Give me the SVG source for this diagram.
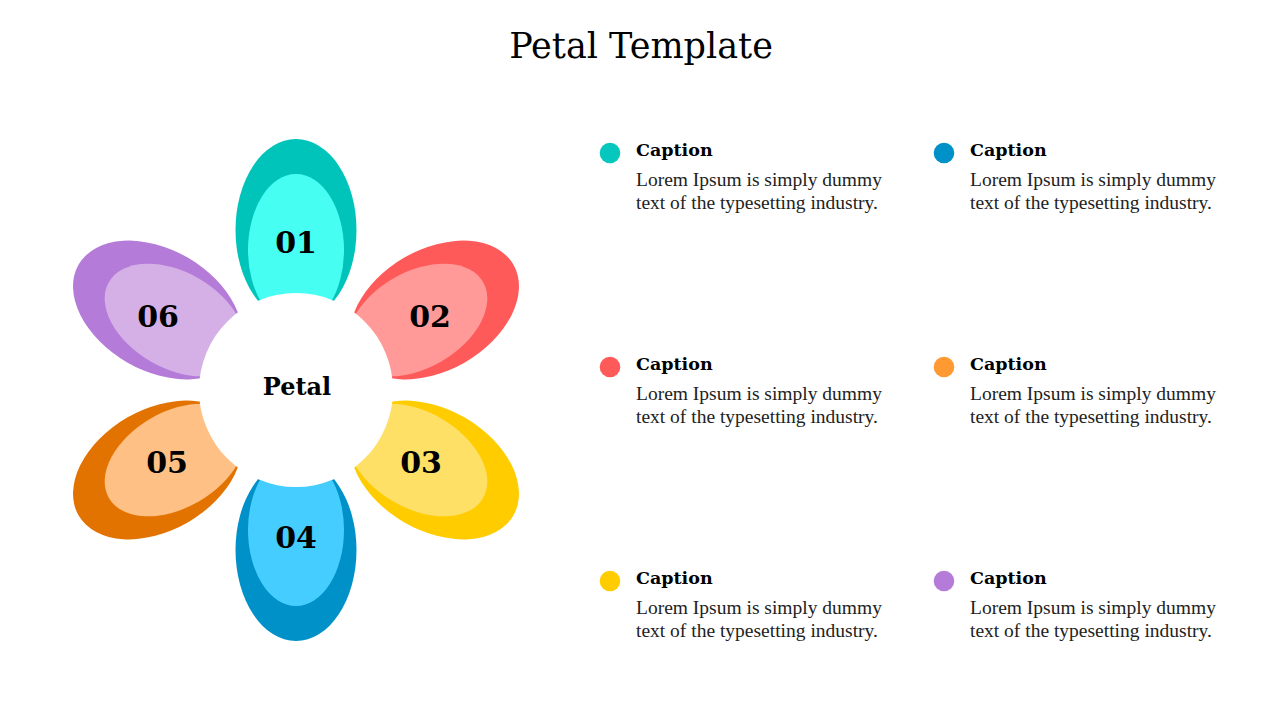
<svg xmlns="http://www.w3.org/2000/svg" width="1280" height="720" viewBox="0 0 1280 720">
  <style>
    .title { font-family: "DejaVu Serif", "Liberation Serif", serif; font-size: 35px; fill: #000; }
    .num { font-family: "DejaVu Serif", "Liberation Serif", serif; font-size: 30px; font-weight: bold; fill: #000; }
    .center { font-family: "DejaVu Serif", "Liberation Serif", serif; font-size: 24px; font-weight: bold; fill: #000; }
    .cap { font-family: "DejaVu Serif", "Liberation Serif", serif; font-size: 17.5px; font-weight: bold; fill: #000; }
    .body { font-family: "Liberation Serif", "DejaVu Serif", serif; font-size: 19.5px; fill: #222; }
  </style>
  <defs>
    <g id="petalOuter"><ellipse cx="296" cy="230" rx="60.5" ry="91"/></g>
    <g id="petalInner"><ellipse cx="296" cy="250" rx="48" ry="76"/></g>
  </defs>
  <rect width="1280" height="720" fill="#ffffff"/>
  <text class="title" x="641" y="58" text-anchor="middle">Petal Template</text>

  <g id="petal-01">
    <use href="#petalOuter" fill="#00C4BA"/>
    <use href="#petalInner" fill="#46FFF2"/>
  </g>
  <g id="petal-02" transform="rotate(60 296 390)">
    <use href="#petalOuter" fill="#FF5A5A"/>
    <use href="#petalInner" fill="#FF9A98"/>
  </g>
  <g id="petal-03" transform="rotate(120 296 390)">
    <use href="#petalOuter" fill="#FFCC00"/>
    <use href="#petalInner" fill="#FFE066"/>
  </g>
  <g id="petal-04" transform="rotate(180 296 390)">
    <use href="#petalOuter" fill="#0091C8"/>
    <use href="#petalInner" fill="#45CDFF"/>
  </g>
  <g id="petal-05" transform="rotate(240 296 390)">
    <use href="#petalOuter" fill="#E37300"/>
    <use href="#petalInner" fill="#FFC085"/>
  </g>
  <g id="petal-06" transform="rotate(300 296 390)">
    <use href="#petalOuter" fill="#B57BD8"/>
    <use href="#petalInner" fill="#D5B0E6"/>
  </g>

  <g id="center">
    <circle cx="296" cy="390" r="97" fill="#ffffff"/>
    <text class="center" x="297" y="395" text-anchor="middle">Petal</text>
  </g>

  <g id="numbers">
    <text class="num" x="296" y="253" text-anchor="middle">01</text>
    <text class="num" x="430" y="327" text-anchor="middle">02</text>
    <text class="num" x="421" y="473" text-anchor="middle">03</text>
    <text class="num" x="296" y="548" text-anchor="middle">04</text>
    <text class="num" x="167" y="473" text-anchor="middle">05</text>
    <text class="num" x="158" y="327" text-anchor="middle">06</text>
  </g>

  <g id="caption-1">
    <circle cx="610" cy="153" r="10.3" fill="#06C7BD"/>
    <text class="cap" x="636" y="156">Caption</text>
    <text class="body" x="636" y="186">Lorem Ipsum is simply dummy</text>
    <text class="body" x="636" y="209">text of the typesetting industry.</text>
  </g>
  <g id="caption-2">
    <circle cx="610" cy="367" r="10.3" fill="#FF5A5A"/>
    <text class="cap" x="636" y="370">Caption</text>
    <text class="body" x="636" y="400">Lorem Ipsum is simply dummy</text>
    <text class="body" x="636" y="423">text of the typesetting industry.</text>
  </g>
  <g id="caption-3">
    <circle cx="610" cy="581" r="10.3" fill="#FFCC00"/>
    <text class="cap" x="636" y="584">Caption</text>
    <text class="body" x="636" y="614">Lorem Ipsum is simply dummy</text>
    <text class="body" x="636" y="637">text of the typesetting industry.</text>
  </g>
  <g id="caption-4">
    <circle cx="944" cy="153" r="10.3" fill="#0091C8"/>
    <text class="cap" x="970" y="156">Caption</text>
    <text class="body" x="970" y="186">Lorem Ipsum is simply dummy</text>
    <text class="body" x="970" y="209">text of the typesetting industry.</text>
  </g>
  <g id="caption-5">
    <circle cx="944" cy="367" r="10.3" fill="#FF9A33"/>
    <text class="cap" x="970" y="370">Caption</text>
    <text class="body" x="970" y="400">Lorem Ipsum is simply dummy</text>
    <text class="body" x="970" y="423">text of the typesetting industry.</text>
  </g>
  <g id="caption-6">
    <circle cx="944" cy="581" r="10.3" fill="#B57BD8"/>
    <text class="cap" x="970" y="584">Caption</text>
    <text class="body" x="970" y="614">Lorem Ipsum is simply dummy</text>
    <text class="body" x="970" y="637">text of the typesetting industry.</text>
  </g>
</svg>
